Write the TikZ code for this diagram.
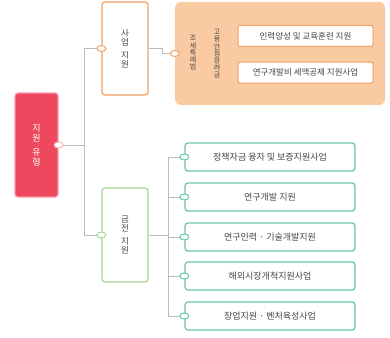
\documentclass[tikz,border=0pt]{standalone}
\usepackage{fontspec}
\usepackage{tikz}
\usetikzlibrary{shapes.geometric}
\newfontfamily\kr{Noto Sans CJK KR}
\definecolor{rootred}{RGB}{238,72,94}
\definecolor{branchorange}{RGB}{242,160,100}
\definecolor{groupfill}{RGB}{250,202,162}
\definecolor{branchgreen}{RGB}{165,216,150}
\definecolor{leafteal}{RGB}{104,198,178}
\definecolor{linegrey}{RGB}{188,188,188}
\definecolor{textgrey}{RGB}{70,70,70}

\tikzset{
  rootbox/.style={draw=rootred!55,line width=1.2pt,fill=rootred,rounded corners=3pt,
    minimum width=43,minimum height=104,text=white,align=center,
    font=\kr\fontsize{9}{10.5}\selectfont},
  orangebox/.style={draw=branchorange,line width=1.3pt,fill=white,rounded corners=3pt,
    minimum width=46,minimum height=93,text=textgrey,align=center,
    font=\kr\fontsize{8.5}{9.5}\selectfont},
  greenbox/.style={orangebox,draw=branchgreen,minimum height=94},
  groupbox/.style={fill=groupfill,rounded corners=6pt,minimum width=210,minimum height=103},
  grouplabel/.style={text=textgrey,align=center,inner sep=0pt,
    font=\kr\fontsize{7}{7.2}\selectfont},
  innerbox/.style={draw=branchorange,line width=1pt,fill=white,rounded corners=2pt,
    minimum width=135,minimum height=21,text=textgrey,
    font=\kr\fontsize{8.5}{9}\selectfont},
  leafbox/.style={draw=leafteal,line width=1.3pt,fill=white,rounded corners=3pt,
    minimum width=170,minimum height=28,text=textgrey,
    font=\kr\fontsize{9}{10}\selectfont},
  link/.style={draw=linegrey,line width=0.8pt},
  knob/.style={ellipse,draw=#1,line width=1pt,fill=white,inner sep=0pt,
    minimum width=9,minimum height=6},
}

\begin{document}
\begin{tikzpicture}[x=1pt,y=1pt]
  \useasboundingbox (0,0) rectangle (390,-337);

  % root and two branches
  \node[rootbox] (root) at (36.5,-145) {지\\원\\[3pt]유\\형};
  \node[orangebox] (biz) at (125,-48.5) {사\\업\\[3pt]지\\원};
  \node[greenbox] (fund) at (125,-235) {금\\전\\[3pt]지\\원};

  % orange group
  \node[groupbox] (grp) at (280,-53.5) {};
  \node[grouplabel] (grpA) at (193,-53) {조\\세\\특\\례\\법};
  \node[grouplabel] (grpB) at (217,-54) {고\\용\\안\\정\\장\\려\\금};
  \node[innerbox] (in1) at (305.5,-36) {인력양성 및 교육훈련 지원};
  \node[innerbox] (in2) at (305.5,-72.5) {연구개발비 세액공제 지원사업};

  % green leaves
  \node[leafbox] (g1) at (270,-157) {정책자금 융자 및 보증지원사업};
  \node[leafbox] (g2) at (270,-197) {연구개발 지원};
  \node[leafbox] (g3) at (270,-237) {연구인력 · 기술개발지원};
  \node[leafbox] (g4) at (270,-276) {해외시장개척지원사업};
  \node[leafbox] (g5) at (270,-316) {창업지원 · 벤처육성사업};

  % connectors
  \draw[link] (root.east) -- ++(26,0) |- (biz.west);
  \draw[link] (root.east) -- ++(26,0) |- (fund.west);
  \draw[link] (biz.east) -- ++(14,0) |- (grp.west);
  \foreach \i in {1,...,5} {
    \draw[link] (fund.east) -- ++(20,0) |- (g\i.west);
  }

  % knobs
  \node[knob=rootred!40] at (root.east) {};
  \node[knob=branchorange] at (biz.west) {};
  \node[knob=branchgreen] at (fund.west) {};
  \node[knob=branchorange] at (grp.west) {};
  \foreach \i in {1,...,5} {
    \node[knob=leafteal] at (g\i.west) {};
  }
\end{tikzpicture}
\end{document}
